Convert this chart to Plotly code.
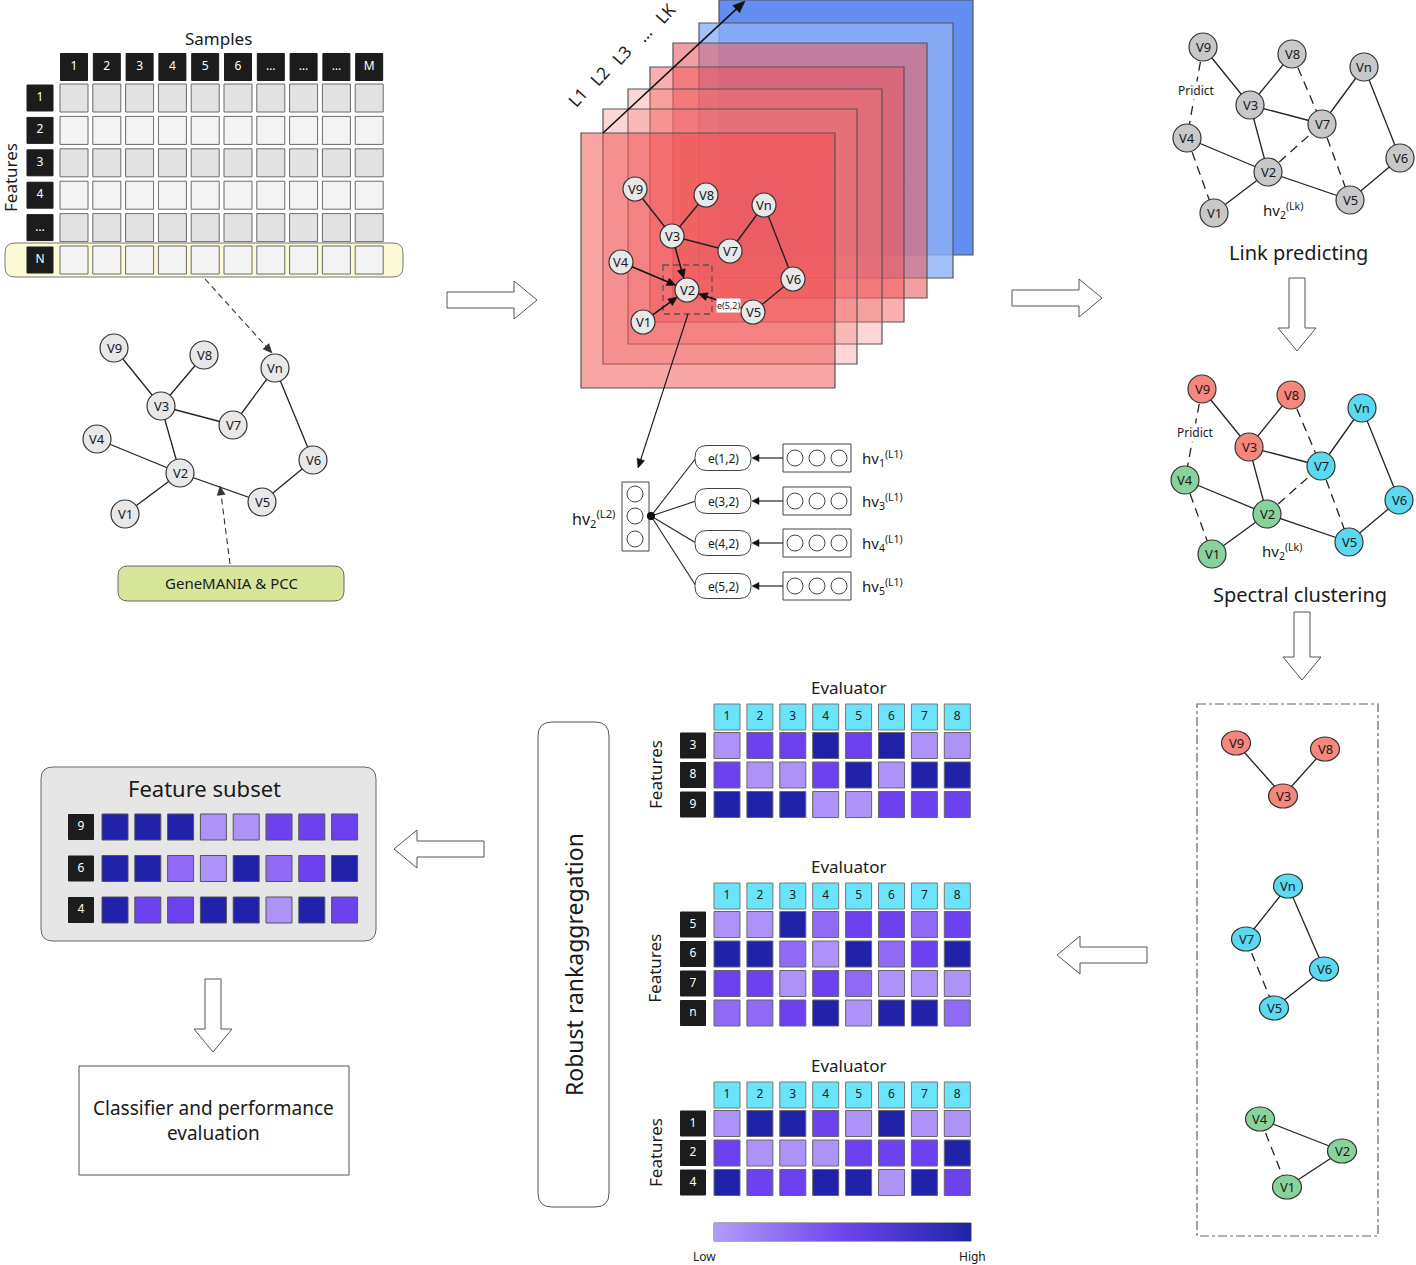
import numpy as np
import plotly.graph_objects as go

W, H = 1416, 1265
FONT = "Noto Sans"
INK = "#1a1a1a"
EDGE = "#555555"

# ----------------------------- data -----------------------------
sample_labels = ["1", "2", "3", "4", "5", "6", "…", "…", "…", "M"]
feature_labels = ["1", "2", "3", "4", "…", "N"]
matrix_shade = [1, 0, 1, 0, 1, 0]          # 1 = darker grey row

graph_edges = [("V9", "V3"), ("V8", "V3"), ("V3", "V7"), ("V7", "Vn"), ("Vn", "V6"),
               ("V6", "V5"), ("V3", "V2"), ("V4", "V2"), ("V1", "V2"), ("V2", "V5")]
predicted_edges = [("V9", "V4"), ("V4", "V1"), ("V8", "V7"), ("V7", "V5"), ("V2", "V7")]
target_node = "V2"
node_cluster = {"V9": 0, "V8": 0, "V3": 0, "Vn": 1, "V7": 1, "V6": 1, "V5": 1,
                "V4": 2, "V2": 2, "V1": 2}
cluster_colors = ["#f5877d", "#5ad9f0", "#88d29c"]

layer_labels = ["L1", "L2", "L3", "…", "LK"]
neighbour_ids = ["1", "3", "4", "5"]
evaluator_ids = ["1", "2", "3", "4", "5", "6", "7", "8"]

eval_features_a = ["3", "8", "9"]
eval_scores_a = [[1, 3, 3, 4, 3, 4, 1, 1],
                 [3, 1, 1, 3, 4, 1, 4, 4],
                 [4, 4, 4, 1, 1, 3, 3, 3]]
eval_features_b = ["5", "6", "7", "n"]
eval_scores_b = [[1, 1, 4, 2, 3, 3, 2, 3],
                 [4, 4, 2, 1, 4, 2, 3, 4],
                 [3, 3, 1, 3, 2, 1, 1, 1],
                 [2, 2, 3, 4, 1, 4, 4, 2]]
eval_features_c = ["1", "2", "4"]
eval_scores_c = [[1, 4, 4, 3, 1, 4, 1, 1],
                 [3, 1, 1, 1, 3, 3, 3, 4],
                 [4, 3, 3, 4, 4, 1, 4, 3]]
subset_features = ["9", "6", "4"]
subset_scores = [[4, 4, 4, 1, 1, 3, 3, 3],
                 [4, 4, 2, 1, 4, 2, 3, 4],
                 [4, 3, 3, 4, 4, 1, 4, 3]]

# ----------------------------- layout positions -----------------------------
pos_left = {"V9": (114, 348), "V8": (204, 355), "Vn": (275, 368), "V3": (161, 406),
            "V7": (233, 425), "V4": (97, 439), "V2": (180, 473), "V6": (313, 460),
            "V5": (262, 502), "V1": (125, 514)}
pos_stack = {"V9": (635, 189), "V8": (706, 195), "Vn": (764, 205), "V3": (672, 236),
             "V7": (730, 251), "V4": (621, 262), "V2": (687, 290), "V6": (793, 279),
             "V5": (753, 312), "V1": (643, 322)}
ghost_offset = (142, -126)     # faint copy of the graph on the back layer
pos_link = {"V9": (1203, 47), "V8": (1292, 54), "Vn": (1364, 67), "V3": (1250, 105),
            "V7": (1322, 124), "V4": (1187, 138), "V2": (1268, 172), "V6": (1400, 158),
            "V5": (1350, 200), "V1": (1214, 213)}
pos_spec = {"V9": (1202, 389), "V8": (1291, 395), "Vn": (1362, 408), "V3": (1249, 447),
            "V7": (1321, 466), "V4": (1185, 480), "V2": (1267, 514), "V6": (1399, 500),
            "V5": (1349, 542), "V1": (1212, 554)}
pos_clu = {"V9": (1236, 743), "V8": (1325, 749), "V3": (1283, 796), "Vn": (1288, 886),
           "V7": (1246, 939), "V6": (1324, 969), "V5": (1274, 1008), "V4": (1260, 1119),
           "V2": (1342, 1151), "V1": (1287, 1187)}

PURPLES = [[0, "#ad93f8"], [1 / 3, "#8e6af5"], [2 / 3, "#6c42ee"], [1, "#2023aa"]]
RAMP = [[0, "#b09cf8"], [0.5, "#6e46ee"], [1, "#1f23a6"]]

S, A, traces = [], [], []


def rect(x0, y0, x1, y1, fill="rgba(0,0,0,0)", line=EDGE, w=1.0, dash=None):
    S.append(dict(type="rect", x0=x0, y0=y0, x1=x1, y1=y1, fillcolor=fill, layer="below",
                  line=dict(color=line, width=w, dash=dash)))


def rrect(x0, y0, x1, y1, r, fill, line=EDGE, w=1.0):
    p = (f"M{x0+r},{y0} L{x1-r},{y0} Q{x1},{y0} {x1},{y0+r} L{x1},{y1-r} Q{x1},{y1} {x1-r},{y1} "
         f"L{x0+r},{y1} Q{x0},{y1} {x0},{y1-r} L{x0},{y0+r} Q{x0},{y0} {x0+r},{y0} Z")
    S.append(dict(type="path", path=p, fillcolor=fill, layer="below", line=dict(color=line, width=w)))


def circ(cx, cy, rx, ry, fill, line="#333", w=1.2):
    S.append(dict(type="circle", x0=cx - rx, x1=cx + rx, y0=cy - ry, y1=cy + ry, fillcolor=fill,
                  layer="below", line=dict(color=line, width=w)))


def seg(p, q, color="#222", w=1.3, dash=None):
    S.append(dict(type="line", x0=float(p[0]), y0=float(p[1]), x1=float(q[0]), y1=float(q[1]),
                  layer="below", line=dict(color=color, width=w, dash=dash)))


def text(x, y, s, size, color=INK, angle=0, xanchor="center", bg=None):
    d = dict(x=x, y=y, text=s, showarrow=False, textangle=angle, xanchor=xanchor, yanchor="middle",
             font=dict(family=FONT, size=size, color=color))
    if bg:
        d["bgcolor"] = bg
        d["borderpad"] = 0
    A.append(d)


def arrow(p, q, w=1.2, hl=9, hw=4, color="#111", dash=None):
    p, q = np.array(p, float), np.array(q, float)
    u = (q - p) / np.hypot(*(q - p))
    n = np.array([-u[1], u[0]])
    seg(p, q - u * hl * 0.6, color=color, w=w, dash=dash)
    b = q - u * hl
    pts = [q, b + n * hw, b - n * hw]
    path = "M" + " L".join(f"{a:.1f},{c:.1f}" for a, c in pts) + " Z"
    S.append(dict(type="path", path=path, fillcolor=color, layer="below",
                  line=dict(color=color, width=0.5)))


def shorten(p, q, r1, r2):
    p, q = np.array(p, float), np.array(q, float)
    u = (q - p) / np.hypot(*(q - p))
    return p + u * r1, q - u * r2


def hollow(p, q, bw=16, hw=38, hl=23):
    p, q = np.array(p, float), np.array(q, float)
    u = (q - p) / np.hypot(*(q - p))
    n = np.array([-u[1], u[0]])
    neck = q - u * hl
    pts = [p + n * bw / 2, neck + n * bw / 2, neck + n * hw / 2, q,
           neck - n * hw / 2, neck - n * bw / 2, p - n * bw / 2]
    path = "M" + " L".join(f"{a:.1f},{b:.1f}" for a, b in pts) + " Z"
    S.append(dict(type="path", path=path, fillcolor="white", layer="below",
                  line=dict(color="#555", width=1)))


def squares(xs, ys, colors, size, labels=None, tcolor="white", tsize=12, line="#666",
            colorscale=None):
    marker = dict(symbol="square", size=size, color=colors, line=dict(color=line, width=1))
    if colorscale is not None:
        marker.update(colorscale=colorscale, cmin=1, cmax=4)
    traces.append(go.Scatter(x=xs, y=ys, mode="markers+text" if labels else "markers",
                             text=labels, textposition="middle center",
                             textfont=dict(family=FONT, size=tsize, color=tcolor),
                             marker=marker, hoverinfo="skip", showlegend=False))


def draw_graph(pos, r, fills, fs, solid, dashed, lw=1.3, rx=None):
    for a, b in solid:
        seg(pos[a], pos[b], w=lw)
    for a, b in dashed:
        seg(pos[a], pos[b], w=lw, dash="9px,6px")
    for n, (x, y) in pos.items():
        circ(x, y, rx or r, r, fills[n])
        text(x, y, n, fs)


# ----------------------------- top-left matrix -----------------------------
col_x = [74 + 32.8 * i for i in range(len(sample_labels))]
row_y = [98 + 32.4 * j for j in range(len(feature_labels))]
rrect(5, 243, 403, 277, 10, "#fcfad4", line="#777")
text(218, 38, "Samples", 17)
text(10, 178, "Features", 17, angle=-90)
squares(col_x, [67] * len(col_x), "#1c1c1c", 27, labels=sample_labels, line="#1c1c1c")
squares([40] * len(row_y), row_y, "#1c1c1c", 26, labels=feature_labels, line="#1c1c1c")
mx, my, mc = [], [], []
for j, y in enumerate(row_y):
    for x in col_x:
        mx.append(x); my.append(y)
        mc.append("#e2e2e2" if matrix_shade[j] else "#f3f3f3")
squares(mx, my, mc, 28, line="#6a6a6a")
arrow((205, 279), (272, 353), w=1.1, color="#333", dash="6px,4px")

# ----------------------------- left graph -----------------------------
draw_graph(pos_left, 14, {k: "#e8e8e8" for k in pos_left}, 13, graph_edges, [])
rrect(118, 566, 344, 601, 10, "#d6e59a", line="#666")
text(231, 583, "GeneMANIA &amp; PCC", 15)
arrow((230, 564), (220, 486), w=1.1, color="#333", dash="6px,4px")

hollow((447, 300), (537, 300))

# ----------------------------- layer stack -----------------------------
layers = [(719, 0, "rgba(100,141,242,1)"), (699, 23, "rgba(140,178,245,0.8)"),
          (673, 43, "rgba(232,95,100,0.6)"), (650, 67, "rgba(243,80,80,0.45)"),
          (628, 89, "rgba(245,120,120,0.3)"), (603, 109, "rgba(245,120,120,0.3)"),
          (581, 133, "rgba(240,75,75,0.5)")]
for li, (x0, y0, col) in enumerate(layers):
    rect(x0, y0, x0 + 254, y0 + 255, fill=col, line="#555", w=1.2)
    if li == 0:  # faint graph drawn on the back layer
        gp = {k: (x + ghost_offset[0], y + ghost_offset[1]) for k, (x, y) in pos_stack.items()}
        for a, b in graph_edges:
            p, q = shorten(gp[a], gp[b], 12, 12)
            seg(p, q, color="rgba(60,60,110,0.22)", w=1.2)
        for k, (x, y) in gp.items():
            circ(x, y, 12, 12, "rgba(0,0,0,0)", line="rgba(60,60,110,0.22)", w=1.2)
arrow((603, 133), (745, 1), w=1.6, hl=12, hw=5)
for i, lab in enumerate(layer_labels):
    text(577 + 22 * i, 97 - 21 * i, lab, 17, angle=-48)

stack_plain = [e for e in graph_edges if target_node not in e]
stack_in = [e for e in graph_edges if target_node in e]
for a, b in stack_plain:
    seg(pos_stack[a], pos_stack[b], w=1.4)
rect(663, 265, 712, 314, line="#555", w=1.3, dash="6px,4px")
for n, (x, y) in pos_stack.items():
    circ(x, y, 12, 12, "#e8e8e8")
    text(x, y, n, 13)
for a, b in stack_in:
    src = b if a == target_node else a
    p, q = shorten(pos_stack[src], pos_stack[target_node], 12, 12)
    arrow(p, q, w=1.5, hl=9, hw=4)
text(728, 305, "e(5,2)", 9, bg="white")
arrow((688, 314), (638, 468), w=1.1, hl=9, hw=4)

# ----------------------------- message passing detail -----------------------------
rect(622, 482, 649, 551, fill="white", line="#444")
for cy in (494, 516, 539):
    circ(635, cy, 8, 8, "white", line="#444", w=1)
text(593, 518, "hv<sub>2</sub><sup>(L2)</sup>", 16)
ey = [458, 501, 543, 586]
for k, nid in enumerate(neighbour_ids):
    y = ey[k]
    seg((651, 516), (696, y), w=1.1)
    rrect(695, y - 12.5, 751, y + 12.5, 12, "white", line="#444")
    text(723, y, f"e({nid},2)", 12)
    rect(783, y - 14, 851, y + 14, fill="white", line="#444")
    for cx in (795, 817, 839):
        circ(cx, y, 8, 8, "white", line="#444", w=1)
    arrow((783, y), (752, y), w=1.1, hl=7, hw=3.5)
    text(860, y, f"hv<sub>{nid}</sub><sup>(L1)</sup>", 15, xanchor="left")
circ(651, 516, 3.5, 3.5, "#111", line="#111")

hollow((1012, 298), (1102, 298))

# ----------------------------- link predicting / spectral -----------------------------
draw_graph(pos_link, 14, {k: "#c8c8c8" for k in pos_link}, 13, graph_edges, predicted_edges)
text(1196, 90, "Pridict", 12, bg="white")
text(1283, 210, "hv<sub>2</sub><sup>(Lk)</sup>", 15)
text(1298, 252, "Link predicting", 20)
hollow((1297, 278), (1297, 351))

draw_graph(pos_spec, 14, {k: cluster_colors[node_cluster[k]] for k in pos_spec}, 13,
           graph_edges, predicted_edges)
text(1195, 432, "Pridict", 12, bg="white")
text(1282, 551, "hv<sub>2</sub><sup>(Lk)</sup>", 15)
text(1300, 594, "Spectral clustering", 20)
hollow((1302, 612), (1302, 680))

# ----------------------------- clusters box -----------------------------
rect(1197, 704, 1378, 1236, line="#666", w=1.2, dash="dashdot")
same = lambda e: node_cluster[e[0]] == node_cluster[e[1]]
draw_graph(pos_clu, 12, {k: cluster_colors[node_cluster[k]] for k in pos_clu}, 13,
           [e for e in graph_edges if same(e)], [e for e in predicted_edges if same(e)],
           rx=14.5)
hollow((1147, 955), (1057, 955))

# ----------------------------- evaluator heat maps -----------------------------
ev_x = [727 + 32.9 * i for i in range(len(evaluator_ids))]


def heat_block(header_y, feats, scores):
    rows = [header_y + 28.5 + 29.5 * k for k in range(len(feats))]
    text(849, header_y - 30, "Evaluator", 17)
    text(655, float(np.mean(rows)), "Features", 17, angle=-90)
    squares(ev_x, [header_y] * len(ev_x), "#6ae4fb", 26, labels=evaluator_ids,
            tcolor=INK, tsize=12, line="#777")
    squares([693] * len(feats), rows, "#1c1c1c", 25, labels=feats, line="#1c1c1c")
    xs, ys, zs = [], [], []
    for k, y in enumerate(rows):
        for i, x in enumerate(ev_x):
            xs.append(x); ys.append(y); zs.append(scores[k][i])
    squares(xs, ys, zs, 26, line="#666", colorscale=PURPLES)


heat_block(717, eval_features_a, eval_scores_a)
heat_block(896, eval_features_b, eval_scores_b)
heat_block(1095, eval_features_c, eval_scores_c)

nramp = 120
traces.append(go.Heatmap(x=np.linspace(714, 971, nramp + 1), y=[1223, 1241],
                         z=[list(range(nramp))], colorscale=RAMP, showscale=False,
                         hoverinfo="skip"))
rect(714, 1223, 971, 1241, line="#555", w=1)
text(704, 1256, "Low", 12)
text(972, 1256, "High", 12)

# ----------------------------- robust aggregation -----------------------------
rrect(538, 722, 609, 1207, 14, "white", line="#555")
text(574, 965, "Robust rankaggregation", 23, angle=-90)
hollow((484, 849), (394, 849))

# ----------------------------- feature subset -----------------------------
rrect(41, 767, 376, 941, 12, "#e6e6e6", line="#666")
text(204, 788, "Feature subset", 22)
fs_x = [115 + 32.8 * i for i in range(len(evaluator_ids))]
fs_y = [827, 868.5, 910]
squares([81] * len(subset_features), fs_y, "#1c1c1c", 25, labels=subset_features,
        line="#1c1c1c")
xs, ys, zs = [], [], []
for k, y in enumerate(fs_y):
    for i, x in enumerate(fs_x):
        xs.append(x); ys.append(y); zs.append(subset_scores[k][i])
squares(xs, ys, zs, 26, line="#555", colorscale=PURPLES)
hollow((213, 979), (213, 1052))

rect(79, 1066, 349, 1175, fill="white", line="#555")
text(213, 1120, "Classifier and performance<br>evaluation", 19)

# ----------------------------- figure -----------------------------
fig = go.Figure(traces)
fig.update_layout(
    width=W, height=H, margin=dict(l=0, r=0, t=0, b=0),
    paper_bgcolor="white", plot_bgcolor="white",
    xaxis=dict(range=[0, W], visible=False, fixedrange=True),
    yaxis=dict(range=[H, 0], visible=False, fixedrange=True),
    shapes=S, annotations=A, showlegend=False,
    font=dict(family=FONT),
)
# remove the browser's default 8 px body margin so the figure fills the window exactly
fig.write_html("out.html", config={"displayModeBar": False},
               post_script="document.body.style.margin='0';document.body.style.overflow='hidden';")
